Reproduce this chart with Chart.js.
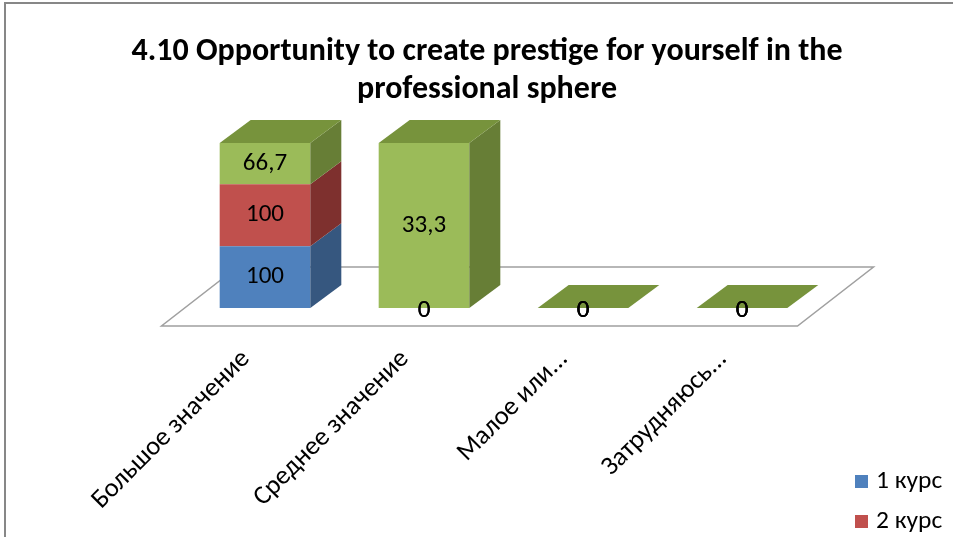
<!DOCTYPE html>
<html>
<head>
<meta charset="utf-8">
<script src="https://cdn.jsdelivr.net/npm/chart.js@4.4.1/dist/chart.umd.min.js"></script>
<style>
  body { margin: 0; background: #fff; }
  #wrap { width: 953px; height: 537px; position: relative; }
</style>
</head>
<body>
<div id="wrap"><canvas id="myChart" width="953" height="537"></canvas></div>
<script>
// chart data
const chartTitle = ['4.10 Opportunity to create prestige for yourself in the', 'professional sphere'];
const categories = ['Большое значение', 'Среднее значение', 'Малое или...', 'Затрудняюсь...'];
const seriesNames = ['1 курс', '2 курс', '3 курс'];
const kurs1 = [100, 0, 0, 0];
const kurs2 = [100, 0, 0, 0];
const kurs3 = [66.7, 33.3, 0, 0];

const FONT = 'Carlito, "Liberation Sans", sans-serif';
const frontColors = ['#4F81BD', '#C0504D', '#9BBB59'];
const sideColors = ['#36577F', '#7E302E', '#677E36'];
const topColors = ['#4A76AB', '#A84441', '#77933C'];
const DX = 31, DY = -23; // profondeur des barres

const series = [kurs1, kurs2, kurs3];
// empilement 100 % : part de chaque série dans la catégorie
const totals = categories.map((c, i) => series.reduce((s, arr) => s + arr[i], 0));
const shares = series.map(arr => arr.map((v, i) => totals[i] ? v / totals[i] * 100 : 0));

function fmt(v) {
  return String(v).replace('.', ',');
}

function poly(ctx, pts, color) {
  ctx.beginPath();
  ctx.moveTo(pts[0][0], pts[0][1]);
  for (let k = 1; k < pts.length; k++) ctx.lineTo(pts[k][0], pts[k][1]);
  ctx.closePath();
  ctx.fillStyle = color;
  ctx.fill();
}

const chart3d = {
  id: 'chart3d',
  beforeDatasetsDraw(chart) {
    // plancher
    const ctx = chart.ctx;
    const xs = chart.scales.x, ys = chart.scales.y;
    const y0 = ys.getPixelForValue(0);
    ctx.save();
    ctx.beginPath();
    ctx.moveTo(xs.left - 24, y0 + 18);
    ctx.lineTo(xs.right - 24, y0 + 18);
    ctx.lineTo(xs.right + 52, y0 - 41);
    ctx.lineTo(xs.left + 52, y0 - 41);
    ctx.closePath();
    ctx.fillStyle = '#fff';
    ctx.fill();
    ctx.strokeStyle = '#A0A0A0';
    ctx.lineWidth = 1.5;
    ctx.stroke();
    ctx.restore();
  },
  afterDatasetsDraw(chart) {
    const ctx = chart.ctx;
    ctx.save();
    const n = chart.data.datasets.length;
    categories.forEach((c, i) => {
      // faces latérales
      for (let d = 0; d < n; d++) {
        const bar = chart.getDatasetMeta(d).data[i];
        const right = bar.x + bar.width / 2;
        const top = Math.min(bar.y, bar.base), bottom = Math.max(bar.y, bar.base);
        if (bottom - top < 0.5) continue;
        poly(ctx, [[right, bottom], [right + DX, bottom + DY], [right + DX, top + DY], [right, top]], sideColors[d]);
      }
      // face du dessus
      let d = n - 1;
      while (d > 0 && series[d][i] === 0) d--;
      if (series[d][i] === 0) d = n - 1;
      const bar = chart.getDatasetMeta(d).data[i];
      const left = bar.x - bar.width / 2, right = bar.x + bar.width / 2;
      const top = Math.min(bar.y, bar.base);
      poly(ctx, [[left, top], [left + DX, top + DY], [right + DX, top + DY], [right, top]], topColors[d]);
    });
    ctx.restore();
  },
  afterDraw(chart) {
    const ctx = chart.ctx;
    const xs = chart.scales.x, ys = chart.scales.y;
    const y0 = ys.getPixelForValue(0);
    ctx.save();

    // cadre
    ctx.strokeStyle = '#878787';
    ctx.lineWidth = 2;
    ctx.strokeRect(5, 3, 1000, 600);

    // titre
    ctx.fillStyle = '#000';
    ctx.font = 'bold 32px ' + FONT;
    ctx.textAlign = 'center';
    ctx.textBaseline = 'middle';
    ctx.fillText(chartTitle[0], 487, 52);
    ctx.fillText(chartTitle[1], 487, 90);

    // étiquettes de données
    ctx.font = '25px ' + FONT;
    series.forEach((arr, d) => {
      chart.getDatasetMeta(d).data.forEach((bar, i) => {
        const v = arr[i];
        const y = v === 0 ? bar.base + 3 : (bar.y + bar.base) / 2;
        ctx.fillText(fmt(v), bar.x, y);
      });
    });

    // catégories
    ctx.font = '26.5px ' + FONT;
    ctx.textAlign = 'right';
    categories.forEach((c, i) => {
      const x = xs.getPixelForValue(i) - 19;
      ctx.save();
      ctx.translate(x, y0 + 47);
      ctx.rotate(-Math.PI / 4);
      ctx.fillText(c, 0, 0);
      ctx.restore();
    });

    // légende
    ctx.font = '25.5px ' + FONT;
    ctx.textAlign = 'left';
    seriesNames.forEach((s, d) => {
      const y = 482 + d * 40;
      ctx.fillStyle = frontColors[d];
      ctx.fillRect(855, y - 7, 13, 13);
      ctx.fillStyle = '#000';
      ctx.fillText(s, 876, y);
    });
    ctx.restore();
  }
};

new Chart(document.getElementById('myChart'), {
  type: 'bar',
  data: {
    labels: categories,
    datasets: seriesNames.map((s, d) => ({
      label: s,
      data: shares[d],
      backgroundColor: frontColors[d],
      borderWidth: 0,
      barPercentage: 0.57,
      categoryPercentage: 1
    }))
  },
  options: {
    responsive: false,
    animation: false,
    devicePixelRatio: 1,
    layout: { padding: { left: 185.5, right: 131.5, top: 143, bottom: 229 } },
    plugins: { legend: { display: false }, title: { display: false }, tooltip: { enabled: false } },
    scales: {
      x: { stacked: true, display: false },
      y: { stacked: true, display: false, min: 0, max: 100 }
    }
  },
  plugins: [chart3d]
});
</script>
</body>
</html>
